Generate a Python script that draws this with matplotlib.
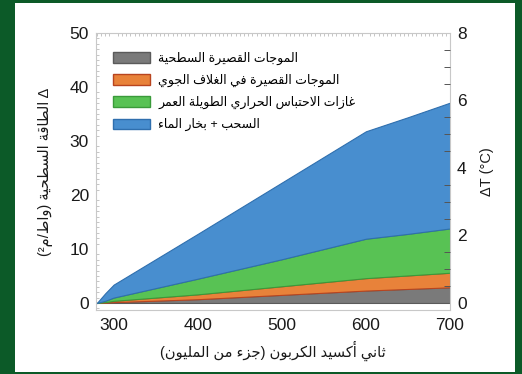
import matplotlib
matplotlib.use("Agg")
import matplotlib.pyplot as plt
from matplotlib.patches import Rectangle, Patch
from matplotlib.ticker import MultipleLocator

# ---------------- data ----------------
co2_ppm = [280, 290, 300, 400, 500, 600, 650, 700]
surface_sw = [0.0, 0.05, 0.15, 0.7, 1.5, 2.3, 2.6, 2.9]
atmos_sw = [0.0, 0.1, 0.25, 0.9, 1.6, 2.3, 2.5, 2.7]
ghg = [0.0, 0.25, 0.6, 2.9, 5.0, 7.3, 7.7, 8.2]
clouds_wv = [0.0, 1.4, 2.4, 8.3, 14.2, 19.9, 21.6, 23.3]

series_labels = [
    "الموجات القصيرة السطحية",
    "الموجات القصيرة في الغلاف الجوي",
    "غازات الاحتباس الحراري الطويلة العمر",
    "السحب + بخار الماء",
]
series_colors = ["#7a7a7a", "#e8823a", "#58c254", "#488ecf"]
edge_colors = ["#5a5a5a", "#b8441f", "#3a9a3a", "#2f6fae"]

xlabel_text = "ثاني أكسيد الكربون (جزء من المليون)"
ylabel_text = "Δ الطاقة السطحية (واط/م²)"
ylabel_right = "ΔT (°C)"
xticks = [300, 400, 500, 600, 700]
yticks = [0, 10, 20, 30, 40, 50]
yticks_right = [0, 2, 4, 6, 8]

# ---------------- simple Arabic shaping ----------------
_forms = {
    'ء': (0xFE80, 1), 'آ': (0xFE81, 2), 'أ': (0xFE83, 2), 'ؤ': (0xFE85, 2),
    'إ': (0xFE87, 2), 'ئ': (0xFE89, 4), 'ا': (0xFE8D, 2), 'ب': (0xFE8F, 4),
    'ة': (0xFE93, 2), 'ت': (0xFE95, 4), 'ث': (0xFE99, 4), 'ج': (0xFE9D, 4),
    'ح': (0xFEA1, 4), 'خ': (0xFEA5, 4), 'د': (0xFEA9, 2), 'ذ': (0xFEAB, 2),
    'ر': (0xFEAD, 2), 'ز': (0xFEAF, 2), 'س': (0xFEB1, 4), 'ش': (0xFEB5, 4),
    'ص': (0xFEB9, 4), 'ض': (0xFEBD, 4), 'ط': (0xFEC1, 4), 'ظ': (0xFEC5, 4),
    'ع': (0xFEC9, 4), 'غ': (0xFECD, 4), 'ف': (0xFED1, 4), 'ق': (0xFED5, 4),
    'ك': (0xFED9, 4), 'ل': (0xFEDD, 4), 'م': (0xFEE1, 4), 'ن': (0xFEE5, 4),
    'ه': (0xFEE9, 4), 'و': (0xFEED, 2), 'ى': (0xFEEF, 2), 'ي': (0xFEF1, 4),
}
_lamalef = {'آ': 0xFEF5, 'أ': 0xFEF7, 'إ': 0xFEF9, 'ا': 0xFEFB}


def _joins(c):
    return c in _forms and _forms[c][1] > 1


def _dual(c):
    return c in _forms and _forms[c][1] == 4


def ar(text):
    out = []
    i = 0
    n = len(text)
    prev_dual = False
    while i < n:
        c = text[i]
        if c not in _forms:
            out.append(c)
            prev_dual = False
            i += 1
            continue
        base, nf = _forms[c]
        join_prev = prev_dual and _joins(c)
        if c == 'ل' and i + 1 < n and text[i + 1] in _lamalef:
            lig = _lamalef[text[i + 1]]
            out.append(chr(lig + (1 if join_prev else 0)))
            prev_dual = False
            i += 2
            continue
        nxt = text[i + 1] if i + 1 < n else ''
        join_next = _dual(c) and _joins(nxt)
        if nf == 1:
            f = base
        elif join_prev and join_next:
            f = base + 3
        elif join_prev:
            f = base + 1
        elif join_next:
            f = base + 2
        else:
            f = base
        out.append(chr(f))
        prev_dual = _dual(c)
        i += 1
    s = ''.join(out)[::-1]
    return s.translate(str.maketrans('()', ')('))


# ---------------- figure ----------------
plt.rcParams['font.family'] = ['Liberation Sans', 'DejaVu Sans']
fig = plt.figure(figsize=(5.22, 3.74), dpi=100, facecolor='#0c5a28')
W, H = 522, 374
bg = Rectangle((15 / W, 2 / H), (515 - 15) / W, (371 - 2) / H,
               transform=fig.transFigure, facecolor='white',
               edgecolor='none', zorder=-10)
fig.patches.append(bg)

ax = fig.add_axes([96 / W, 1 - 310 / H, (450 - 96) / W, (310 - 33) / H])
ax.set_facecolor('white')

polys = ax.stackplot(co2_ppm, surface_sw, atmos_sw, ghg, clouds_wv,
                     colors=series_colors, labels=[ar(t) for t in series_labels],
                     linewidth=0.8)
for p, ec in zip(polys, edge_colors):
    p.set_edgecolor(ec)

ax.set_xlim(279, 700)
ax.set_ylim(-1.3, 50)
ax.set_xticks(xticks)
ax.set_yticks(yticks)
ax.tick_params(axis='both', which='major', labelsize=12.5, direction='in',
               length=0, pad=5, colors='#1a1a1a')
ax.tick_params(axis='x', pad=6)
for s in ax.spines.values():
    s.set_color('#c8c8c8')
    s.set_linewidth(0.8)
ax.xaxis.set_minor_locator(MultipleLocator(5))
ax.yaxis.set_minor_locator(MultipleLocator(1))
ax.tick_params(which='minor', direction='in', length=2.5, color='#bbbbbb',
               top=True, bottom=False, left=True, right=False, width=0.6)

ax2 = ax.twinx()
ax2.set_ylim(-1.3 * 8 / 50, 8)
ax2.set_yticks(yticks_right)
ax2.yaxis.set_minor_locator(MultipleLocator(0.5))
ax2.tick_params(axis='y', which='major', labelsize=12.5, direction='in',
                length=0, pad=5, colors='#1a1a1a')
ax2.tick_params(axis='y', which='minor', direction='in', length=4,
                color='#555555', width=0.7)
for s in ax2.spines.values():
    s.set_visible(False)
ax2.set_ylabel(ylabel_right, fontsize=10.5, rotation=90, labelpad=10,
               color='#1a1a1a')

ax.set_xlabel(ar(xlabel_text), fontsize=10.5, labelpad=5, color='#1a1a1a')
ax.set_ylabel(ar(ylabel_text), fontsize=10.5, labelpad=12, color='#1a1a1a')

handles = [Patch(facecolor=c, edgecolor=e, linewidth=1.0)
           for c, e in zip(series_colors, edge_colors)]
leg = ax.legend(handles, [ar(t) for t in series_labels], loc='upper left',
                bbox_to_anchor=(0.035, 0.95), frameon=False, fontsize=9,
                handlelength=2.9, handleheight=0.95, labelspacing=0.72,
                handletextpad=0.7, borderaxespad=0)

fig.savefig('out.png', dpi=100, facecolor=fig.get_facecolor())
